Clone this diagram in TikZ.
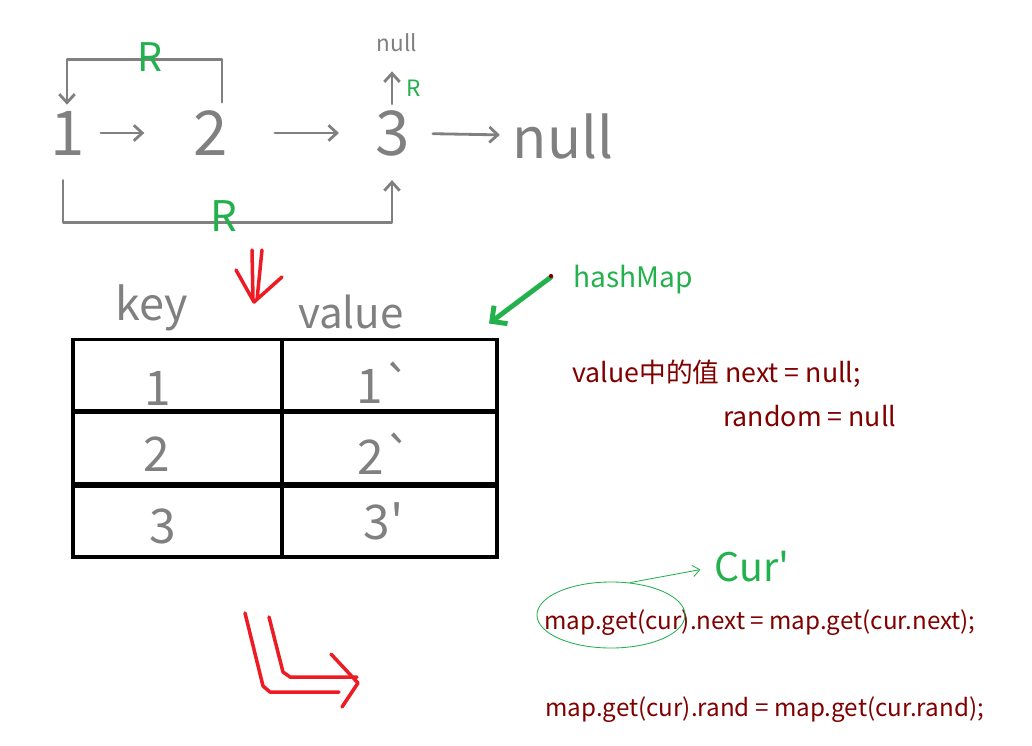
\documentclass[tikz,border=0pt]{standalone}
\usepackage{fontspec}
\setmainfont{Noto Sans CJK SC}
\usetikzlibrary{arrows.meta,calc,shapes.geometric}
\definecolor{pen}{RGB}{128,128,128}
\definecolor{gpen}{RGB}{34,177,76}
\definecolor{rpen}{RGB}{237,28,36}
\definecolor{codered}{RGB}{128,0,0}

\begin{document}
\begin{tikzpicture}[x=0.025cm, y=-0.025cm, >={Straight Barb[length=6pt, width=11pt]},
  hand/.style={draw=pen, line width=2pt, line cap=round, line join=round},
  big/.style={text=pen, inner sep=0pt, font=\fontsize{44}{44}\selectfont},
  rr/.style={text=gpen, inner sep=0pt},
  cell/.style={draw=black, line width=2.8pt, minimum width=5.225cm, minimum height=1.775cm, inner sep=0pt},
  celltxt/.style={text=pen, inner sep=0pt, font=\fontsize{34}{34}\selectfont},
  code/.style={text=codered, anchor=base west, inner sep=0pt, font=\fontsize{17.2}{17.2}\selectfont},
  redpen/.style={draw=rpen, line width=2.5pt, line cap=round, line join=round}]
	\useasboundingbox (0,0) rectangle (1032,745);
	% list with random pointers
	\node[big] (one) at (68,133) {1};
	\node[big] (two) at (211,133) {2};
	\node[big] (three) at (393,133) {3};
	\node[big, font=\fontsize{40}{40}\selectfont] (nul) at (563,136) {null};
	\node[text=pen, inner sep=0pt, font=\fontsize{16}{16}\selectfont] (nulltop) at (397,43) {null};
	\draw[hand, ->, shorten <=11pt, shorten >=35pt] (one) -- (two);
	\draw[hand, ->, shorten <=33pt, shorten >=26pt] (two) -- (three);
	\draw[hand, ->, shorten <=16pt, shorten >=9pt] (three) -- (nul);
	\draw[hand, ->] ($(two.north)+(11,-8)$) -- ++(0,-43) -| ($(one.north)+(-1,-6)$);
	\draw[hand, ->] ($(one.south)+(-5,25)$) -- ++(0,42) -| ($(three.south)+(-1,24)$);
	\draw[hand, ->] ($(three.north)+(-1,-6)$) -- ($(nulltop.south)+(-5,19)$);
	\node[rr, font=\fontsize{28}{28}\selectfont] (r1) at (150,57) {R};
	\node[rr, font=\fontsize{16}{16}\selectfont] (r2) at (414,88) {R};
	\node[rr, font=\fontsize{30}{30}\selectfont] (r3) at (224,216) {R};
	% red double arrow down
	\draw[redpen] (252,250) -- (253,300) (262,250) -- (257,300) (236,270) -- (254,302) -- (282,277);
	% hash map table
	\node[celltxt, font=\fontsize{32}{32}\selectfont] (key) at (152,308) {key};
	\node[celltxt, font=\fontsize{30}{30}\selectfont] (val) at (351,312) {value};
	\foreach \r/\y in {1/375, 2/448, 3/521.5} {
		\node[cell] (k\r) at (177.5,\y) {};
		\node[cell, minimum width=5.375cm] (v\r) at (389.5,\y) {};
	}
	\node[celltxt] at ($(k1)+(-20,13)$) {1};
	\node[celltxt] at ($(v1)+(-5,8)$) {1\textasciigrave};
	\node[celltxt] at ($(k2)+(-21,6)$) {2};
	\node[celltxt] at ($(v2)+(-4,6)$) {2\textasciigrave};
	\node[celltxt] at ($(k3)+(-15,5)$) {3};
	\node[celltxt] at ($(v3)+(-6,0)$) {3\textquotesingle};
	% hashMap note
	\node[text=gpen, anchor=base west, inner sep=0pt, font=\fontsize{20}{20}\selectfont] (hm) at (573,287) {hashMap};
	\coordinate (tbltip) at ($(v1.north east)+(-10,-14)$);
	\draw[gpen, line width=3.5pt, line cap=round, -{Straight Barb[length=8pt, width=16pt]}] ($(hm.west)+(-22,-2)$) -- (tbltip);
	\fill[codered] ($(hm.west)+(-22,-3)$) circle (1.5pt);
	\node[code, font=\fontsize{19}{19}\selectfont] (t1) at (572,382) {value中的值 next = null;};
	\node[code, font=\fontsize{19}{19}\selectfont] (t2) at (723,426) {random = null};
	\node[code] (t3) at (544,629) {map.get(cur).next = map.get(cur.next);};
	\node[code] (t4) at (545,716) {map.get(cur).rand = map.get(cur.rand);};
	% cur' mark
	\node[draw=gpen, ellipse, line width=0.6pt, minimum width=3.7cm, minimum height=1.65cm, inner sep=0pt] (circ) at (611,615) {};
	\node[rr, font=\fontsize{28}{28}\selectfont] (curp) at (752,567) {Cur\textquotesingle};
	\draw[gpen, line width=0.6pt, -{Straight Barb[length=5pt, width=8pt]}, shorten >=10pt] (circ.60) -- (curp.west);
	% red arrow to the code
	\draw[redpen] (245,613) -- (263,686) -- (270,692) -- (339,692);
	\draw[redpen] (269,617) -- (283,672) -- (290,677) -- (357,677);
	\draw[redpen] (331,654) -- (358,683) -- (342,707);
\end{tikzpicture}
\end{document}
